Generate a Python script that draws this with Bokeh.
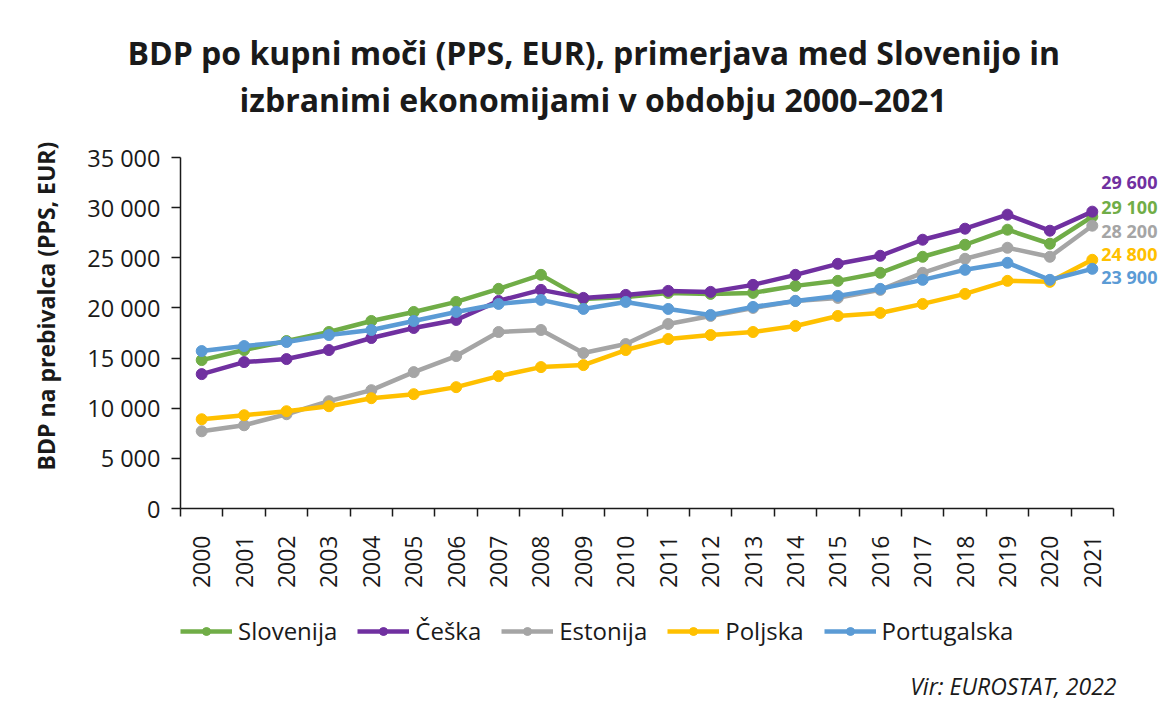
from bokeh.plotting import figure
from bokeh.layouts import column
from bokeh.models import (ColumnDataSource, Range1d, FixedTicker, Label, Legend,
                          LegendItem, Title)
from bokeh.embed import file_html
from bokeh.resources import INLINE
import math

# ---------------- data ----------------
years = [2000, 2001, 2002, 2003, 2004, 2005, 2006, 2007, 2008, 2009, 2010,
         2011, 2012, 2013, 2014, 2015, 2016, 2017, 2018, 2019, 2020, 2021]
year_labels = ["2000", "2001", "2002", "2003", "2004", "2005", "2006", "2007",
               "2008", "2009", "2010", "2011", "2012", "2013", "2014", "2015",
               "2016", "2017", "2018", "2019", "2020", "2021"]

slovenija = [14800, 15800, 16700, 17600, 18700, 19600, 20600, 21900, 23300, 20900,
             21100, 21500, 21400, 21500, 22200, 22700, 23500, 25100, 26300, 27800,
             26400, 29100]
ceska = [13400, 14600, 14900, 15800, 17000, 18000, 18800, 20700, 21800, 21000,
         21300, 21700, 21600, 22300, 23300, 24400, 25200, 26800, 27900, 29300,
         27700, 29600]
estonija = [7700, 8300, 9400, 10700, 11800, 13600, 15200, 17600, 17800, 15500,
            16400, 18400, 19200, 20000, 20700, 21000, 21800, 23500, 24900, 26000,
            25100, 28200]
poljska = [8900, 9300, 9700, 10200, 11000, 11400, 12100, 13200, 14100, 14300,
           15800, 16900, 17300, 17600, 18200, 19200, 19500, 20400, 21400, 22700,
           22600, 24800]
portugalska = [15700, 16200, 16600, 17300, 17800, 18700, 19600, 20400, 20800, 19900,
               20600, 19900, 19300, 20100, 20700, 21200, 21900, 22800, 23800, 24500,
               22800, 23900]

series_names = ["Slovenija", "Češka", "Estonija", "Poljska", "Portugalska"]
series_values = [slovenija, ceska, estonija, poljska, portugalska]
end_labels = ["29 100", "29 600", "28 200", "24 800", "23 900"]

y_ticks = [0, 5000, 10000, 15000, 20000, 25000, 30000, 35000]
y_tick_labels = ["0", "5 000", "10 000", "15 000", "20 000", "25 000", "30 000", "35 000"]

title_lines = ["BDP po kupni moči (PPS, EUR), primerjava med Slovenijo in",
               "izbranimi ekonomijami v obdobju 2000–2021"]
y_title = "BDP na prebivalca (PPS, EUR)"
source_note = "Vir: EUROSTAT, 2022"

# ---------------- style / layout ----------------
colors = ["#70AD47", "#7030A0", "#A5A5A5", "#FFC000", "#5B9BD5"]
end_label_dy = [10, 30, -5, 6, -8]     # vertical nudges (px) of the end labels
title_offsets = [-53, 59]              # left start of each title line vs. frame left
FONT = "Open Sans"
TXT = "#1a1a1a"

W = 1158
H1, H2 = 600, 99                       # chart part, legend/source strip
AX_L, AX_R, AX_T, AX_B = 180, 1113, 157, 508   # axis box inside the chart part
px_per_year = (AX_R - AX_L) / len(years)
x_lo = years[0] - 0.5
x_hi = x_lo + (W - AX_L) / px_per_year

# ---------------- chart ----------------
p = figure(width=W, height=H1, output_backend="svg", toolbar_location=None,
           x_range=Range1d(x_lo, x_hi), y_range=Range1d(y_ticks[0], y_ticks[-1]),
           min_border_left=AX_L, min_border_right=0,
           min_border_top=AX_T, min_border_bottom=H1 - AX_B)
p.outline_line_color = None
p.xgrid.grid_line_color = None
p.ygrid.grid_line_color = None
p.background_fill_color = "white"
p.border_fill_color = "white"

# title: a blank spacer next to the frame, then line 2, then line 1
p.add_layout(Title(text=" ", standoff=0, text_font=FONT, text_font_size="25px"), "above")
for line, off in reversed(list(zip(title_lines, title_offsets))):
    p.add_layout(Title(text=line, align="left", offset=off, standoff=2,
                       text_font=FONT, text_font_size="32px", text_font_style="bold",
                       text_color=TXT), "above")

# x axis: ticks at category boundaries, labels at centers
xa = p.xaxis[0]
xa.bounds = (years[0] - 0.5, years[-1] + 0.5)
xa.ticker = FixedTicker(ticks=years, minor_ticks=[y - 0.5 for y in years] + [years[-1] + 0.5])
xa.major_label_overrides = {y: s for y, s in zip(years, year_labels)}
xa.major_tick_out = 0
xa.major_tick_in = 0
xa.minor_tick_out = 8
xa.minor_tick_in = 0
xa.minor_tick_line_color = TXT
xa.minor_tick_line_width = 1.5
xa.axis_line_color = TXT
xa.axis_line_width = 1.5
xa.major_label_orientation = math.pi / 2
xa.major_label_standoff = 19
xa.major_label_text_font = FONT
xa.major_label_text_font_size = "23px"
xa.major_label_text_color = TXT

ya = p.yaxis[0]
ya.ticker = FixedTicker(ticks=y_ticks, minor_ticks=[])
ya.major_label_overrides = {t_: s for t_, s in zip(y_ticks, y_tick_labels)}
ya.major_tick_out = 9
ya.major_tick_in = 0
ya.major_tick_line_color = TXT
ya.major_tick_line_width = 1.5
ya.minor_tick_line_color = None
ya.axis_line_color = TXT
ya.axis_line_width = 1.5
ya.major_label_standoff = 11
ya.major_label_text_font = FONT
ya.major_label_text_font_size = "23.5px"
ya.major_label_text_color = TXT

sources = []
for name, vals, col in zip(series_names, series_values, colors):
    src = ColumnDataSource(dict(x=years, y=vals))
    sources.append(src)
    p.line("x", "y", source=src, line_color=col, line_width=4.5)
    p.scatter("x", "y", source=src, marker="circle", size=11,
              fill_color=col, line_color=col)

# end-of-line value labels
for vals, txt, col, dy in zip(series_values, end_labels, colors, end_label_dy):
    p.add_layout(Label(x=years[-1], y=vals[-1], text=txt, x_offset=9, y_offset=dy,
                       text_align="left", text_baseline="middle",
                       text_font=FONT, text_font_size="18px", text_font_style="bold",
                       text_color=col))

# y axis title
p.add_layout(Title(text=y_title, align="left", offset=38, standoff=45,
                   text_font=FONT, text_font_size="23px", text_font_style="bold",
                   text_color=TXT), "left")

# ---------------- legend + source strip ----------------
q = figure(width=W, height=H2, output_backend="svg", toolbar_location=None,
           x_range=Range1d(AX_L, W), y_range=Range1d(0, H2),
           x_axis_location=None, y_axis_location=None,
           min_border_left=AX_L, min_border_right=0, min_border_top=0,
           min_border_bottom=0)
q.outline_line_color = None
q.xgrid.grid_line_color = None
q.ygrid.grid_line_color = None
q.border_fill_color = "white"

# the series are re-drawn here out of view, only to feed the legend
items = []
for name, src, col in zip(series_names, sources, colors):
    ln = q.line("x", "y", source=src, line_color=col, line_width=4.5)
    sc = q.scatter("x", "y", source=src, marker="circle", size=11,
                   fill_color=col, line_color=col)
    items.append(LegendItem(label=name, renderers=[ln, sc]))

legend = Legend(items=items, orientation="horizontal", location=(0, 52),
                glyph_width=52, glyph_height=20, label_height=20,
                label_standoff=6, spacing=20, padding=0, margin=0,
                border_line_color=None, background_fill_alpha=0,
                label_text_font=FONT, label_text_font_size="24px",
                label_text_color=TXT)
q.add_layout(legend, "center")

q.add_layout(Label(x=1116, y=14, text=source_note, text_align="right",
                   text_baseline="alphabetic", text_font=FONT, text_font_size="23px",
                   text_font_style="italic", text_color=TXT))

layout = column(p, q, spacing=0)
open("out.html", "w").write(file_html(layout, INLINE))
